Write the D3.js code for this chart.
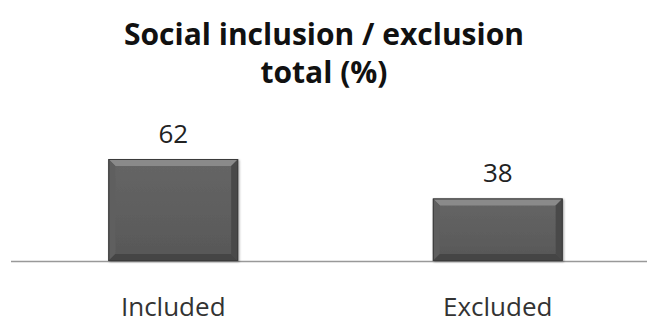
<!DOCTYPE html>
<html>
<head>
<meta charset="utf-8">
<script src="https://cdn.jsdelivr.net/npm/d3@7"></script>
<style>
  body { margin: 0; background: #fff; }
  svg { display: block; font-family: "Open Sans", "Noto Sans", sans-serif; }
</style>
</head>
<body>
<div id="chart"></div>
<script>
// chart data
const categories = ["Included", "Excluded"];
const values = [62, 38];
const titleLines = ["Social inclusion / exclusion", "total (%)"];

const width = 647, height = 323;
const margin = {top: 0, right: 0, bottom: 62, left: 11};

const svg = d3.select("#chart").append("svg")
    .attr("width", width)
    .attr("height", height);

// bar gradient + bevel colours
const defs = svg.append("defs");
const grad = defs.append("linearGradient")
    .attr("id", "barFill")
    .attr("x1", 0).attr("y1", 0).attr("x2", 0).attr("y2", 1);
grad.append("stop").attr("offset", "0%").attr("stop-color", "#666");
grad.append("stop").attr("offset", "100%").attr("stop-color", "#575757");

const shadow = defs.append("filter").attr("id", "shadow")
    .attr("x", "-10%").attr("y", "-10%").attr("width", "120%").attr("height", "120%");
shadow.append("feDropShadow")
    .attr("dx", 1).attr("dy", 1).attr("stdDeviation", 1.2)
    .attr("flood-color", "#000").attr("flood-opacity", 0.35);

const x = d3.scaleBand()
    .domain(categories)
    .range([margin.left, 660])
    .paddingInner(0.6)
    .paddingOuter(0.3);

const baseY = height - margin.bottom;
const y = d3.scaleLinear()
    .domain([0, 62])
    .range([baseY, 159]);

// title
svg.append("g").selectAll("text")
    .data(titleLines)
    .join("text")
    .attr("x", 324)
    .attr("y", (d, i) => 45 + i * 38)
    .attr("text-anchor", "middle")
    .attr("font-size", 30)
    .attr("font-weight", "bold")
    .attr("fill", "#111")
    .text(d => d);

// baseline axis
svg.append("line")
    .attr("x1", margin.left).attr("x2", width)
    .attr("y1", baseY + 0.5).attr("y2", baseY + 0.5)
    .attr("stroke", "#999")
    .attr("stroke-width", 1.5);

const bev = 7;
const bars = svg.append("g").selectAll("g.bar")
    .data(values)
    .join("g")
    .attr("class", "bar")
    .attr("filter", "url(#shadow)");

bars.each(function(d, i) {
    const g = d3.select(this);
    const x0 = x(categories[i]), w = x.bandwidth();
    const y0 = y(d), h = baseY - y(d);
    g.append("rect")
        .attr("x", x0).attr("y", y0)
        .attr("width", w).attr("height", h)
        .attr("fill", "url(#barFill)");
    // top bevel
    g.append("path")
        .attr("d", `M${x0},${y0}L${x0 + w},${y0}L${x0 + w - bev},${y0 + bev}L${x0 + bev},${y0 + bev}Z`)
        .attr("fill", "#8a8a8a");
    // left bevel
    g.append("path")
        .attr("d", `M${x0},${y0}L${x0 + bev},${y0 + bev}L${x0 + bev},${y0 + h - bev}L${x0},${y0 + h}Z`)
        .attr("fill", "#5e5e5e");
    // right bevel
    g.append("path")
        .attr("d", `M${x0 + w},${y0}L${x0 + w - bev},${y0 + bev}L${x0 + w - bev},${y0 + h - bev}L${x0 + w},${y0 + h}Z`)
        .attr("fill", "#4a4a4a");
    // bottom bevel
    g.append("path")
        .attr("d", `M${x0},${y0 + h}L${x0 + bev},${y0 + h - bev}L${x0 + w - bev},${y0 + h - bev}L${x0 + w},${y0 + h}Z`)
        .attr("fill", "#444");
    g.append("rect")
        .attr("x", x0 + 0.5).attr("y", y0 + 0.5)
        .attr("width", w - 1).attr("height", h - 1)
        .attr("fill", "none")
        .attr("stroke", "#3a3a3a");
});

// value labels
svg.append("g").selectAll("text")
    .data(values)
    .join("text")
    .attr("x", (d, i) => x(categories[i]) + x.bandwidth() / 2)
    .attr("y", d => y(d) - 16)
    .attr("text-anchor", "middle")
    .attr("font-size", 26)
    .attr("fill", "#222")
    .text(d => d);

// category labels
svg.append("g").selectAll("text")
    .data(categories)
    .join("text")
    .attr("x", d => x(d) + x.bandwidth() / 2)
    .attr("y", 316)
    .attr("text-anchor", "middle")
    .attr("font-size", 26)
    .attr("fill", "#333")
    .text(d => d);
</script>
</body>
</html>
